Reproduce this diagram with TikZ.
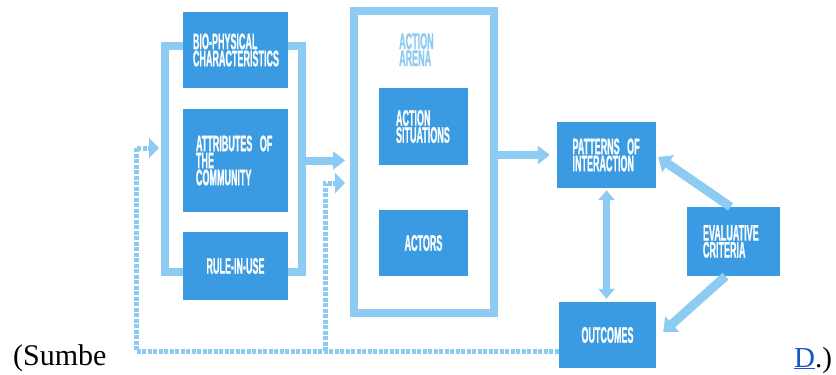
\documentclass[tikz,border=0pt]{standalone}
\usepackage{fontspec}
\setmainfont{Liberation Serif}
\newfontfamily\iadfont[FakeStretch=0.40, FakeBold=0.8]{Liberation Sans}
\newcommand\iadsize{\fontsize{22.5}{17}\selectfont\spaceskip 2.5pt\relax}
\usetikzlibrary{arrows.meta}
\definecolor{boxblue}{HTML}{3A9BE3}
\definecolor{lineblue}{HTML}{8DCBF2}
\definecolor{linkblue}{HTML}{1A55C8}
\tikzset{
  box/.style = {fill = boxblue, text = white, inner sep = 0pt,
    font = \iadfont\bfseries\iadsize},
  frame/.style = {draw = lineblue, line width = 8pt},
  fat/.style = {lineblue, line width = 8pt, -{Triangle[length = 12pt, width = 18pt]}},
  slant/.style = {lineblue, line width = 9pt, -{Triangle[length = 12pt, width = 20pt]}},
  feedback/.style = {lineblue, line width = 5pt, dash pattern = on 4pt off 1.5pt,
    -{Triangle[length = 10pt, width = 20pt]}}
}
\begin{document}
\begin{tikzpicture}[x = 1pt, y = -1pt]
  \useasboundingbox (0,0) rectangle (836,375);
  % exogenous variables
  \draw[frame] (200,46) -| (165,272) -- (200,272);
  \draw[frame] (270,46) -| (302,272) -- (270,272);
  \node[box, minimum width = 105pt, minimum height = 76pt, text width = 85pt, align = left]
    (bio) at (235.5,50) {BIO-PHYSICAL\\CHARACTERISTICS};
  \node[box, minimum width = 105pt, minimum height = 103pt, text width = 79pt, align = left]
    (attr) at (235.5,160.5) {ATTRIBUTES OF\\THE\\COMMUNITY};
  \node[box, minimum width = 105pt, minimum height = 68pt, align = center]
    (rule) at (235.5,266) {RULE-IN-USE};
  % action arena
  \node[frame, minimum width = 140pt, minimum height = 302pt] (arena) at (424,162) {};
  \node[anchor = north west, inner sep = 0pt, text = lineblue, align = left,
    font = \iadfont\bfseries\iadsize] (arenalabel) at (399,33) {ACTION\\ARENA};
  \node[box, minimum width = 89pt, minimum height = 77pt, text width = 55pt, align = left]
    (situations) at (423.5,126.5) {ACTION\\SITUATIONS};
  \node[box, minimum width = 89pt, minimum height = 66pt, align = center]
    (actors) at (423.5,243) {ACTORS};
  % results
  \node[box, minimum width = 99pt, minimum height = 66pt, text width = 68pt, align = left]
    (patterns) at (606.5,155) {PATTERNS OF\\INTERACTION};
  \node[box, minimum width = 97pt, minimum height = 66pt, align = center]
    (outcomes) at (607.5,335) {OUTCOMES};
  \node[box, minimum width = 93pt, minimum height = 69pt, text width = 61pt, align = left]
    (criteria) at (733.5,241.5) {EVALUATIVE\\CRITERIA};
  % arrows
  \draw[fat, shorten >= 5pt] ([xshift = 14pt]attr.east) -- (attr.east -| arena.west);
  \draw[fat, shorten >= 7pt] (arena.east |- patterns.west) -- (patterns.west);
  \draw[lineblue, line width = 7pt, {Triangle[length = 10pt, width = 16pt]}-{Triangle[length = 10pt, width = 16pt]},
    shorten <= 2pt, shorten >= 3pt] (patterns.south) -- (patterns.south |- outcomes.north);
  \draw[slant] ([xshift = -3pt]criteria.north) -- ([xshift = 2pt, yshift = -2pt]patterns.east);
  \draw[slant] ([xshift = -8pt]criteria.south) -- ([xshift = 7pt, yshift = 3pt]outcomes.east);
  % feedback
  \coordinate (inA) at (159,148);
  \coordinate (inB) at (345,183);
  \coordinate (fbB) at (325,351);
  \draw[feedback] ([yshift = -16pt]outcomes.west) -| ([xshift = -23pt]inA) -- (inA);
  \draw[feedback] (fbB) |- (inB);
  % surrounding text
  \node[anchor = base west, inner sep = 0pt, font = \fontsize{30}{30}\selectfont]
    (sumbe) at (13,365) {(Sumbe};
  \node[anchor = base west, inner sep = 0pt, font = \fontsize{29}{29}\selectfont]
    (cite) at (794,367) {\textcolor{linkblue}{\underline{D}}.)};
\end{tikzpicture}
\end{document}
